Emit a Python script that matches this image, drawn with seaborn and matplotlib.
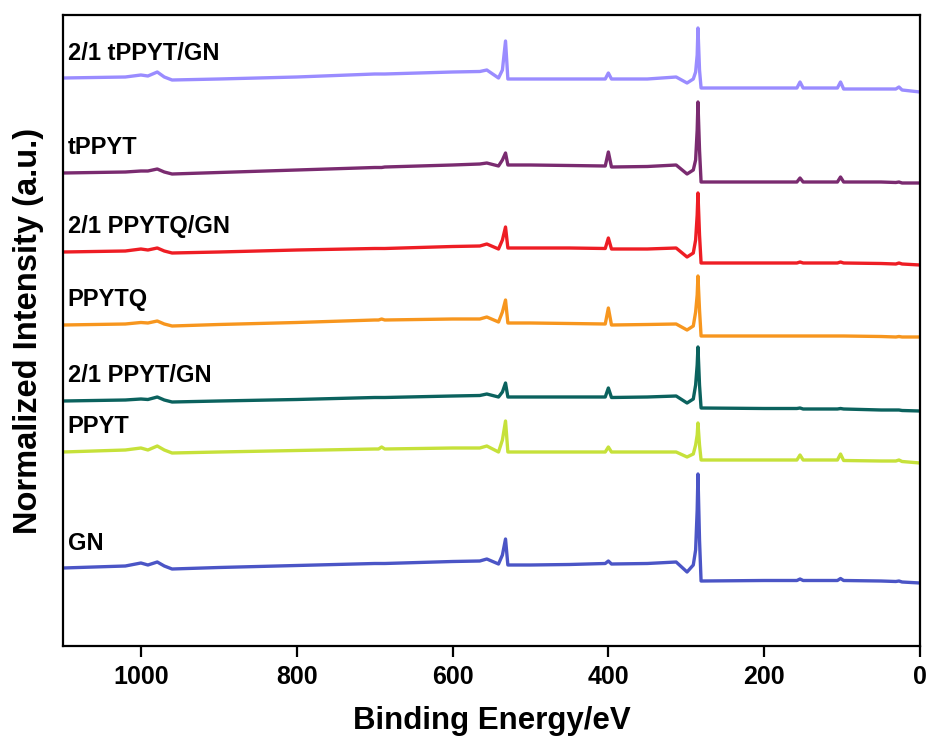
import matplotlib
matplotlib.use("Agg")
import matplotlib.pyplot as plt
import pandas as pd
import seaborn as sns

# XPS survey spectra, binding energy (eV) and stacked normalized intensity (a.u.)
energy_ev = [1100, 1020, 1000, 991, 979, 970, 960, 900, 800, 700, 695, 691, 687,
             600, 565, 556, 541, 536, 532, 529, 500, 450, 404, 400, 396,
             350, 313, 299, 291, 288, 286, 285, 283, 281,
             200, 158, 154, 150, 106, 102, 98, 50, 31, 27, 23, 0]

gn = [78, 80, 83, 81, 84, 80, 77, 78.5, 80.5, 82.5, 82.5, 82.5, 82.5,
      84.5, 85, 87, 82, 91, 107, 81, 81, 81.5, 82.5, 85, 82,
      82.5, 84, 74, 81, 96, 136, 172, 106, 65,
      65.5, 65.5, 67, 65.5, 65.5, 67.5, 65.5, 65, 64.5, 65, 64, 63]

ppyt = [194, 196, 198, 196, 200, 196, 193, 194, 195.5, 197, 197, 199, 197,
        198, 198, 200, 194, 206, 225, 194, 194, 194, 194, 199, 194,
        194, 194, 189, 192, 201, 211, 223, 201, 186,
        186, 186, 191, 186, 186, 192, 185.5, 185, 185, 186, 184.5, 183]

ppyt_gn = [245, 246, 247, 246.5, 249, 246, 244, 245, 246.5, 248.5, 248.5, 248.5, 248.5,
           250, 250.5, 252, 249, 254, 263, 249, 249, 249, 249, 258, 248.5,
           249, 250, 243, 247, 261, 281, 299, 261, 238,
           237.5, 237.5, 238, 237, 237, 237.5, 237, 236, 236, 236, 235.5, 235]

ppytq = [321, 322, 323.5, 323, 325, 322, 320, 321.5, 323.5, 326, 326, 327, 326,
         327, 327, 329, 324, 334, 346, 323, 323, 322.5, 322, 338, 321,
         321.5, 322, 316, 320, 334, 351, 370, 336, 310,
         310, 310, 310, 310, 310, 310, 310, 309.5, 309, 309.5, 309, 309]

ppytq_gn = [394, 395, 397, 396, 398, 395, 393, 394, 396, 397.5, 397.5, 397.5, 397.5,
            399.5, 400, 402, 397, 406, 419, 398, 398, 398, 397.5, 408, 397,
            397, 398, 389, 393, 406, 431, 453, 411, 383,
            383, 383, 384, 383, 383, 384, 383, 382.5, 382, 383, 382, 381]

tppyt = [473, 474, 475, 475, 477, 474, 472, 473.5, 476, 478.5, 478.5, 478.5, 479,
         481, 482, 483, 480, 486, 493, 481, 481, 480.5, 480, 494, 479,
         479.5, 481, 472, 476, 486, 516, 544, 496, 464,
         464, 464, 468, 464, 464, 469, 464, 464, 463.5, 464, 463, 463]

tppyt_gn = [568, 569, 571, 570, 574, 569, 566, 567, 569, 572, 572, 572, 572,
            574, 574.5, 576, 568, 576, 605, 567, 567, 567, 567, 573, 567,
            567, 569, 563, 567, 574, 591, 618, 576, 558,
            558, 558, 564, 558, 558, 564, 557, 557, 557, 559, 556, 554]

sample_names = ["GN", "PPYT", "2/1 PPYT/GN", "PPYTQ", "2/1 PPYTQ/GN", "tPPYT", "2/1 tPPYT/GN"]
sample_values = [gn, ppyt, ppyt_gn, ppytq, ppytq_gn, tppyt, tppyt_gn]
sample_colors = ["#4b55c6", "#c6e13a", "#0b625e", "#f7961e", "#ee1d24", "#7a2b70", "#9a8cff"]
x_ticks = [1000, 800, 600, 400, 200, 0]

sns.set_theme(style="ticks")
plt.rcParams["font.family"] = ["Liberation Sans", "DejaVu Sans"]
plt.rcParams["font.weight"] = "bold"
plt.rcParams["axes.labelweight"] = "bold"
plt.rcParams["text.color"] = "black"
plt.rcParams["axes.labelcolor"] = "black"
plt.rcParams["xtick.color"] = "black"
plt.rcParams["xtick.labelcolor"] = "black"

df = pd.concat(
    [pd.DataFrame({"energy": energy_ev, "intensity": vals, "sample": name})
     for name, vals in zip(sample_names, sample_values)],
    ignore_index=True,
)

fig = plt.figure(figsize=(9.3, 7.45), dpi=100)
ax = fig.add_axes([63 / 930, 1 - 646 / 745, (920 - 63) / 930, (646 - 15) / 745])

sns.lineplot(
    data=df, x="energy", y="intensity", hue="sample",
    palette=dict(zip(sample_names, sample_colors)),
    estimator=None, sort=False, linewidth=2.4, legend=False, ax=ax,
)
for line in ax.get_lines():
    line.set_solid_joinstyle("round")
    line.set_solid_capstyle("round")

# sample names sit just above the left end of each spectrum
for name, vals in zip(sample_names, sample_values):
    ax.text(1094, vals[0] + 25, name, ha="left", va="center",
            fontsize=17, fontweight="bold", color="black")

ax.set_xlim(1100, 0)
ax.set_ylim(0, 631)
ax.set_xticks(x_ticks)
ax.set_xticklabels([str(t) for t in x_ticks])
ax.set_yticks([])
ax.tick_params(axis="x", direction="out", length=8, width=1.6,
               labelsize=18, pad=6, color="black", labelcolor="black")
for side in ["left", "right", "top", "bottom"]:
    ax.spines[side].set_visible(True)
    ax.spines[side].set_linewidth(1.6)
    ax.spines[side].set_color("black")

ax.set_xlabel("Binding Energy/eV", fontsize=22.5, fontweight="bold",
              labelpad=12, color="black")
ax.set_ylabel("Normalized Intensity (a.u.)", fontsize=23.5, fontweight="bold",
              labelpad=14, color="black")

fig.savefig("out.png", dpi=100)
